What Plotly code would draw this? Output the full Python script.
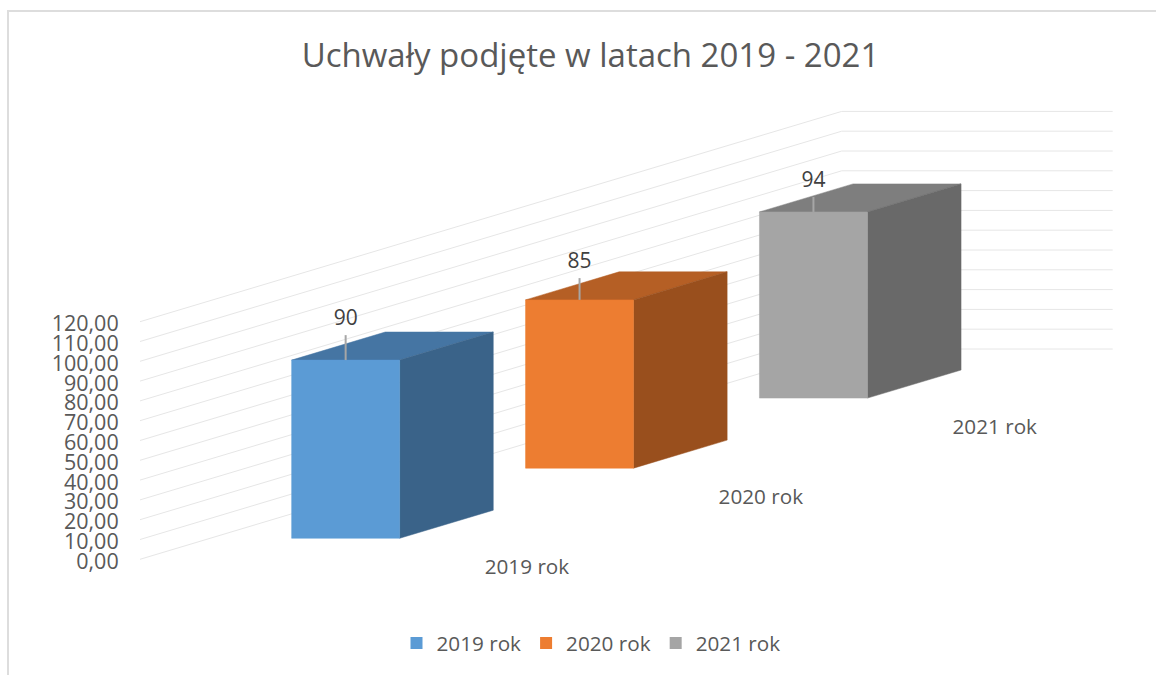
import plotly.graph_objects as go

# ---- data ----
categories = ["2019 rok", "2020 rok", "2021 rok"]
values = [90, 85, 94]
axis_ticks = list(range(0, 121, 10))
tick_labels = ["0,00", "10,00", "20,00", "30,00", "40,00", "50,00", "60,00",
               "70,00", "80,00", "90,00", "100,00", "110,00", "120,00"]
title_text = "Uchwały podjęte w latach 2019 - 2021"

# ---- styles ----
FRONT = ["#5B9BD5", "#ED7D31", "#A5A5A5"]
TOP = ["#4575A3", "#B55F25", "#7E7E7E"]
SIDE = ["#3A6389", "#994F1D", "#696969"]
GRID = "#E6E6E6"
FONT = "Open Sans"

# ---- oblique projection of the 3D chart onto the 2D axes ----
W, H = 1156, 675
PL, PR, PT, PB = 140, 1120, 90, 610      # plot area in page pixels
PX_PER_UNIT = 1.98
ZERO_PX = 559.3
DX, DY = 701.7, 210.3 / PX_PER_UNIT      # screen shift of the full depth
FLOOR_W = 271
BAR_W0, BAR_W1 = 81.5, 189.5
BAR_DEPTH = 0.0667


def project(w, d, v):
    return w + DX * d, v + DY * d


def poly(points):
    xy = [project(*p) for p in points]
    xy.append(xy[0])
    return [a for a, _ in xy], [b for _, b in xy]


fig = go.Figure()

# walls' gridlines
gx, gy = [], []
for t in axis_ticks:
    for w, d in [(0, 0), (0, 1), (FLOOR_W, 1)]:
        a, b = project(w, d, t)
        gx.append(a)
        gy.append(b)
    gx.append(None)
    gy.append(None)
fig.add_trace(go.Scatter(x=gx, y=gy, mode="lines", line=dict(color=GRID, width=1),
                         showlegend=False, hoverinfo="skip"))

# bars
leader = [12.6, 11.0, 7.6]
label_gap = [7.7, 7.8, 7.5]
lx, ly, lt = [], [], []
for c, (name, val) in enumerate(zip(categories, values)):
    d_mid = (c + 0.5) / 3
    d0, d1 = d_mid - BAR_DEPTH, d_mid + BAR_DEPTH
    faces = [
        (TOP[c], [(BAR_W0, d0, val), (BAR_W1, d0, val), (BAR_W1, d1, val), (BAR_W0, d1, val)]),
        (SIDE[c], [(BAR_W1, d0, 0), (BAR_W1, d1, 0), (BAR_W1, d1, val), (BAR_W1, d0, val)]),
        (FRONT[c], [(BAR_W0, d0, 0), (BAR_W1, d0, 0), (BAR_W1, d0, val), (BAR_W0, d0, val)]),
    ]
    for color, pts in faces:
        x, y = poly(pts)
        fig.add_trace(go.Scatter(x=x, y=y, mode="lines", fill="toself", fillcolor=color,
                                 line=dict(color=color, width=0.5), name=name,
                                 showlegend=False, hoverinfo="skip"))
    # leader line and value label
    xm, ym = project((BAR_W0 + BAR_W1) / 2, d0, val)
    fig.add_trace(go.Scatter(x=[xm, xm], y=[ym, ym + leader[c]], mode="lines",
                             line=dict(color="#A6A6A6", width=2),
                             showlegend=False, hoverinfo="skip"))
    lx.append(xm)
    ly.append(ym + leader[c] + label_gap[c])
    lt.append(str(val))

fig.add_trace(go.Scatter(x=lx, y=ly, mode="text", text=lt, textposition="middle center",
                         textfont=dict(family=FONT, size=21, color="#404040"),
                         showlegend=False, hoverinfo="skip", cliponaxis=False))

# category labels on the floor
cx, cy = [], []
for c in range(len(categories)):
    a, b = project(FLOOR_W - 1, (c + 0.5) / 3, -22.6)
    cx.append(a)
    cy.append(b)
fig.add_trace(go.Scatter(x=cx, y=cy, mode="text", text=categories, textposition="middle center",
                         textfont=dict(family=FONT, size=20.7, color="#595959"),
                         showlegend=False, hoverinfo="skip", cliponaxis=False))

# legend entries
for c, name in enumerate(categories):
    fig.add_trace(go.Scatter(x=[None], y=[None], mode="markers", name=name,
                             marker=dict(symbol="square", size=14, color=FRONT[c])))


def px_x(p):
    return (p - PL) / (PR - PL)


def px_y(p):
    return (PB - p) / (PB - PT)


fig.update_layout(
    width=W, height=H,
    margin=dict(l=PL, r=W - PR, t=PT, b=H - PB, autoexpand=False),
    paper_bgcolor="white", plot_bgcolor="white",
    title=dict(text=title_text, x=590.5 / W, xanchor="center", y=1 - 55 / H, yanchor="middle",
               font=dict(family=FONT, size=33, color="#595959")),
    xaxis=dict(visible=False, range=[0, PR - PL]),
    yaxis=dict(range=[(ZERO_PX - PB) / PX_PER_UNIT, (ZERO_PX - PT) / PX_PER_UNIT],
               tickmode="array", tickvals=axis_ticks, ticktext=tick_labels,
               ticks="outside", ticklen=16, tickcolor="rgba(0,0,0,0)",
               ticklabelshift=2,
               showgrid=False, zeroline=False, showline=False,
               tickfont=dict(family=FONT, size=21.5, color="#595959")),
    legend=dict(orientation="h", x=px_x(591), xanchor="center",
                y=px_y(643), yanchor="middle",
                font=dict(family=FONT, size=20.7, color="#595959"),
                itemsizing="constant", bgcolor="rgba(0,0,0,0)"),
    shapes=[
        dict(type="line", xref="paper", yref="paper", x0=px_x(8), x1=px_x(8),
             y0=px_y(11), y1=px_y(H), line=dict(color="#DDDDDD", width=2)),
        dict(type="line", xref="paper", yref="paper", x0=px_x(7), x1=px_x(W),
             y0=px_y(11), y1=px_y(11), line=dict(color="#DDDDDD", width=2)),
    ],
)

fig.write_html("out.html", config={"displayModeBar": False},
               post_script="document.body.style.margin='0';document.body.style.overflow='hidden';")
